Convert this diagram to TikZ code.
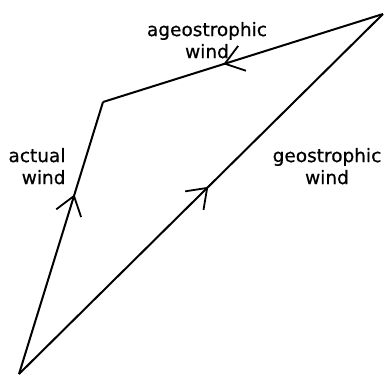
\documentclass[tikz,border=0pt]{standalone}
\usepackage{fontspec}
\setmainfont{DejaVu Sans}[FakeBold=0.6]
\usetikzlibrary{arrows.meta, decorations.markings}

\begin{document}
\begin{tikzpicture}[
		x=1pt, y=-1pt,
		line width=2pt,
		font=\fontsize{18.5}{22}\selectfont,
		vec/.style={postaction={decorate}, decoration={markings,
				mark=at position #1 with {\arrow[line width=1.8pt]{Straight Barb[length=18pt, width=26pt]}}}},
		label/.style={inner sep=0pt, anchor=north}
		]
		
		% ==========================================
		% Frame and corner points
		% ==========================================
		\useasboundingbox (0,0) rectangle (386,376);
		\coordinate (origin) at (19,374);
		\coordinate (kink) at (103,102);
		\coordinate (tip) at (383,14);
		
		% ==========================================
		% Wind vectors
		% ==========================================
		\draw[vec=0.66] (origin) -- (kink);
		\draw[vec=0.57] (tip) -- (kink);
		\draw[vec=0.52] (origin) -- (tip);
		
		% Labels
		\node (ageo) [label, align=center] at (207,21) {ageostrophic\\wind};
		\node (actual) [label, align=right] at (37,147) {actual\\wind};
		\node (geo) [label, align=center] at (327,147) {geostrophic\\wind};
		
	\end{tikzpicture}
\end{document}
